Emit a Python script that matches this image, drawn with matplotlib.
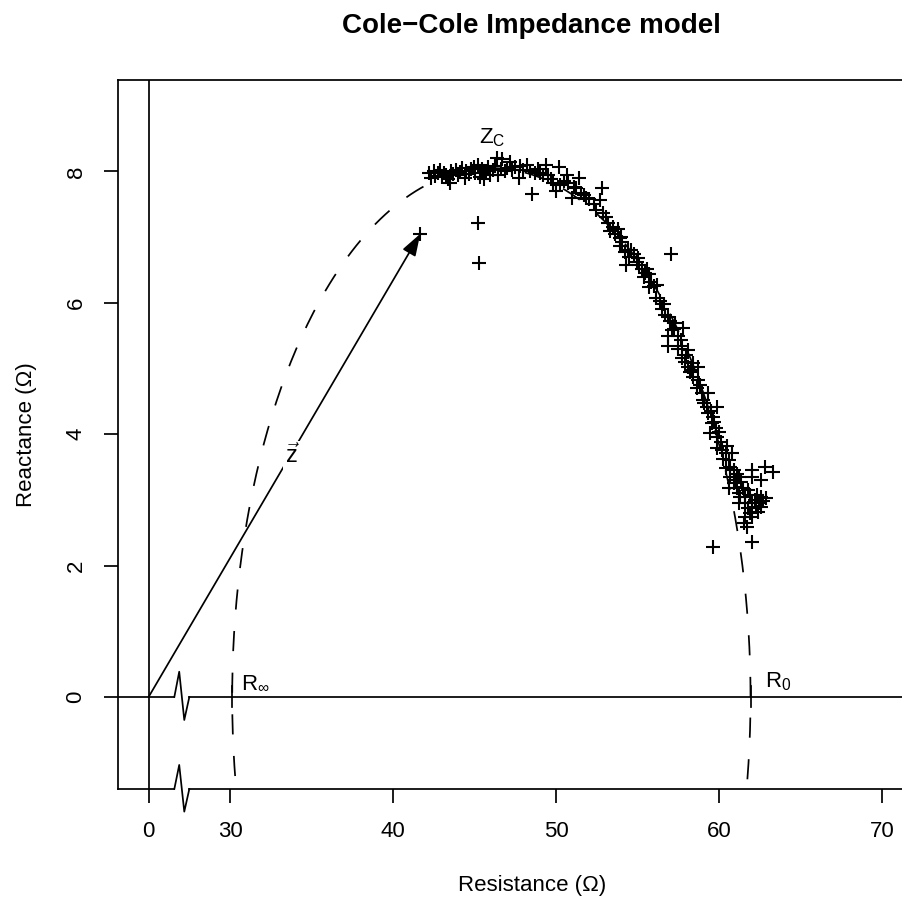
import numpy as np
import matplotlib.pyplot as plt

plt.rcParams['font.family'] = ['Liberation Sans', 'DejaVu Sans']
plt.rcParams['mathtext.fontset'] = 'custom'
plt.rcParams['mathtext.rm'] = 'Liberation Sans'
plt.rcParams['mathtext.it'] = 'Liberation Sans:italic'
plt.rcParams['lines.scale_dashes'] = False

# measured impedance (ohm)
resistance = [
    42.2, 42.35, 42.5, 42.6, 42.75, 42.9, 43.0, 43.1, 43.25, 43.4, 43.5, 43.55,
    43.7, 43.85, 44.0, 44.1, 44.25, 44.4, 44.5, 44.65, 44.8, 44.95, 45.05, 45.2,
    45.35, 45.45, 45.55, 45.7, 45.85, 45.95, 46.1, 46.25, 46.35, 46.45, 46.6,
    46.7, 46.85, 47.0, 47.15, 47.3, 47.5, 47.7, 47.8, 48.0, 48.2, 48.4, 48.5,
    48.7, 48.9, 49.0, 49.2, 49.4, 49.5, 49.7, 49.8, 50.0, 50.2, 50.25, 50.5,
    50.7, 50.75, 50.95, 51.1, 51.25, 51.4, 51.55, 51.7, 51.85, 52.05, 52.3,
    52.45, 52.7, 52.8, 52.9, 53.05, 53.2, 53.3, 53.5, 53.8, 53.9, 54.05, 53.95,
    54.25, 54.4, 54.6, 54.5, 54.3, 54.8, 54.95, 55.1, 55.25, 55.45, 55.6, 55.7,
    55.8, 55.7, 56.0, 56.2, 56.1, 56.35, 56.5, 56.7, 56.85, 57.0, 57.05, 57.3,
    57.8, 57.1, 56.85, 56.85, 57.45, 57.65, 57.75, 58.1, 57.75, 57.9, 58.4,
    58.7, 58.1, 58.2, 58.4, 58.7, 58.65, 58.95, 59.3, 59.0, 59.25, 59.9, 59.3,
    59.6, 59.55, 59.7, 60.0, 59.45, 59.9, 59.9, 60.2, 60.4, 60.8, 60.25, 60.6,
    60.4, 60.9, 61.1, 60.7, 61.2, 60.9, 61.35, 60.6, 61.1, 61.45, 62.05, 62.8,
    63.3, 62.05, 62.6, 61.2, 61.6, 61.9, 62.3, 62.6, 62.9, 61.6, 62.05, 62.45,
    61.8, 62.25, 62.55, 61.2, 61.6, 62.0, 61.5, 61.7, 62.05, 59.6,
    53.6, 54.0, 55.0, 55.4, 56.6, 57.25, 57.5, 58.0, 58.3, 58.8, 59.1, 59.5,
    59.8, 60.1, 60.5, 60.7, 61.0, 61.3, 61.9, 62.2, 62.7, 62.4, 61.75,
    45.2, 45.25, 41.67,
]
reactance = [
    7.98, 7.9, 8.0, 7.93, 7.97, 8.02, 7.92, 7.98, 7.95, 7.88, 7.83, 8.0,
    7.96, 8.02, 7.95, 7.99, 8.05, 7.9, 8.0, 7.96, 8.03, 8.07, 7.98, 8.1,
    7.92, 8.04, 7.88, 8.0, 8.06, 7.95, 8.02, 8.08, 8.21, 7.94, 8.03,
    8.19, 8.0, 8.05, 8.14, 8.02, 8.06, 7.9, 8.08, 8.02, 8.1, 8.0, 7.65,
    7.97, 8.03, 7.98, 7.94, 8.1, 7.94, 7.88, 7.83, 7.7, 8.07, 7.8, 7.86,
    7.95, 7.82, 7.6, 7.76, 7.74, 7.9, 7.67, 7.64, 7.6, 7.58, 7.5,
    7.42, 7.56, 7.74, 7.36, 7.3, 7.22, 7.1, 7.15, 7.13, 6.98, 6.92, 6.87,
    6.78, 6.8, 6.8, 6.69, 6.57, 6.75, 6.62, 6.57, 6.52, 6.46, 6.52, 6.44,
    6.31, 6.24, 6.25, 6.27, 6.07, 6.02, 5.9, 5.82, 5.78, 5.73, 6.75, 5.7,
    5.62, 5.58, 5.5, 5.35, 5.5, 5.43, 5.35, 5.28, 5.16, 5.1, 5.08,
    5.02, 5.02, 4.94, 4.87, 4.82, 4.71, 4.62, 4.62, 4.52, 4.41, 4.41, 4.32,
    4.26, 4.17, 4.18, 4.03, 4.02, 3.95, 3.79, 3.76, 3.71, 3.71, 3.63, 3.6,
    3.48, 3.45, 3.4, 3.35, 3.35, 3.25, 3.27, 3.18, 3.18, 3.18, 3.45, 3.5,
    3.42, 3.35, 3.3, 3.1, 3.04, 3.07, 3.07, 3.04, 3.03, 2.95, 2.95, 2.95,
    2.87, 2.89, 2.89, 2.95, 2.74, 2.74, 2.65, 2.59, 2.36, 2.28,
    7.05, 7.0, 6.68, 6.4, 5.98, 5.6, 5.3, 5.2, 4.98, 4.75, 4.48, 4.35,
    4.1, 3.88, 3.82, 3.5, 3.3, 3.05, 2.8, 3.0, 2.98, 2.82, 3.15,
    7.22, 6.6, 7.05,
]

# fitted Cole parameters
r_inf = 30.13
r_zero = 61.93
x_top = 8.05
z_tip = (41.67, 7.05)

x_ticks = [0, 30, 40, 50, 60, 70]
y_ticks = [0, 2, 4, 6, 8]

# the x axis is broken between 0 and 30: values under 30 are moved right by 25
GAP_SHIFT = 25
BREAK_LO, BREAK_HI = 26.58, 27.50


def gap_x(v):
    return v + GAP_SHIFT if v < 30 else v


LW = 1.25
fig = plt.figure(figsize=(9.03, 9.02), dpi=100)
ax = fig.add_axes([0.1312, 0.1253, 0.9153, 0.786])
x_lo, x_hi = 23.153, 73.86
ax.set_xlim(x_lo, x_hi)
ax.set_ylim(-1.40, 9.391)

for s in ax.spines.values():
    s.set_linewidth(LW)
ax.spines['bottom'].set_visible(False)

# bottom frame line with zigzag break
yb = -1.40
ax.plot([x_lo, BREAK_LO], [yb, yb], color='k', lw=LW, clip_on=False)
ax.plot([BREAK_LO, 26.88, 27.19, BREAK_HI], [yb, -1.034, -1.745, yb],
        color='k', lw=LW, clip_on=False)
ax.plot([BREAK_HI, x_hi], [yb, yb], color='k', lw=LW, clip_on=False)

# zero reactance line, also broken
ax.plot([x_lo, BREAK_LO], [0, 0], color='k', lw=LW)
ax.plot([BREAK_LO, 26.88, 27.19, BREAK_HI], [0, 0.385, -0.35, 0],
        color='k', lw=LW)
ax.plot([BREAK_HI, x_hi], [0, 0], color='k', lw=LW)
ax.axvline(gap_x(0), color='k', lw=LW)

# small marks at R_inf and R_0
for r in (r_inf, r_zero):
    ax.plot([r, r], [-0.15, 0.17], color='k', lw=LW)

# Cole-Cole arc
t = np.linspace(0, 2 * np.pi, 600)
xc = (r_inf + r_zero) / 2
ax.plot(xc + (r_zero - r_inf) / 2 * np.cos(t), x_top * np.sin(t),
        color='k', lw=LW, dashes=(14.5, 15.5))

ax.plot(resistance, reactance, linestyle='none', marker='+', color='k',
        ms=9.5, mew=1.5)

ax.annotate('', xy=z_tip, xytext=(gap_x(0), 0),
            arrowprops=dict(arrowstyle='-|>,head_length=0.9,head_width=0.3',
                            color='k', lw=LW, shrinkA=0, shrinkB=0,
                            mutation_scale=15))

ax.text(33.83, 3.67, r'$\vec{\mathrm{z}}$', fontsize=17, ha='center',
        va='center', bbox=dict(facecolor='white', edgecolor='none', pad=1.5),
        zorder=5)
ax.text(45.25, 8.43, r'$\mathrm{Z_C}$', fontsize=16, ha='left',
        va='baseline')
ax.text(30.64, 0.13, r'$\mathrm{R_\infty}$', fontsize=16, ha='left',
        va='baseline')
ax.text(62.79, 0.14, r'$\mathrm{R_0}$', fontsize=16, ha='left',
        va='baseline')

ax.set_xticks([gap_x(v) for v in x_ticks])
ax.set_xticklabels([str(v) for v in x_ticks])
ax.set_yticks(y_ticks)
ax.set_yticklabels([str(v) for v in y_ticks])
ax.tick_params(direction='out', length=10, width=LW, labelsize=16, pad=13)
plt.setp(ax.get_yticklabels(), rotation=90, va='center')

cx = (118.5 + 945) / 2 / 903
fig.text(cx, 1 - 26 / 902, 'Cole\u2212Cole Impedance model', fontsize=20,
         fontweight='bold', ha='center', va='center')
fig.text(cx, 1 - 885 / 902, 'Resistance (\u03a9)', fontsize=16,
         ha='center', va='center')
fig.text(27 / 903, 1 - 434.5 / 902, 'Reactance (\u03a9)', fontsize=16,
         rotation=90, ha='center', va='center')

fig.savefig('out.png', dpi=100)
